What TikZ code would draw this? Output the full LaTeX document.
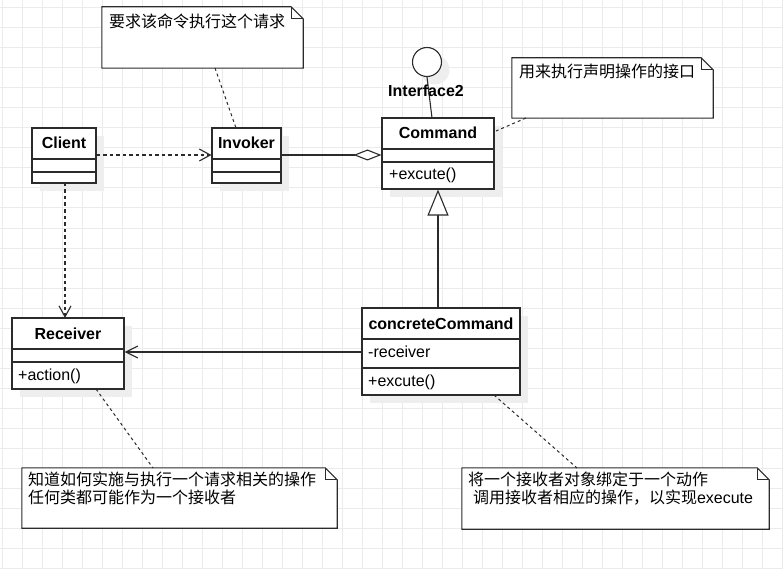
\documentclass[tikz,border=0pt]{standalone}
\usepackage{fontspec}
\setmainfont{Liberation Sans}
\newfontfamily\cjk{Noto Sans CJK SC}
\usetikzlibrary{arrows.meta,shadows,calc}
\definecolor{linec}{HTML}{2B2B2B}
\definecolor{gridc}{HTML}{EBEBEB}
\definecolor{shadc}{HTML}{EEEEEE}
\tikzset{
  cls/.style={draw=linec, line width=1.1pt, fill=white, inner sep=0pt,
    general shadow={fill=shadc, shadow xshift=8pt, shadow yshift=-8pt}},
  sepl/.style={draw=linec, line width=1.1pt},
  ctitle/.style={anchor=base, inner sep=0pt, font=\fontsize{16}{18}\selectfont\bfseries},
  member/.style={anchor=base west, inner sep=0pt, font=\fontsize{16}{18}\selectfont},
  notetxt/.style={anchor=base west, inner sep=0pt, font=\fontsize{16}{18}\selectfont\cjk},
  notearea/.style={inner sep=0pt, draw=none},
  notel/.style={draw=linec, line width=1.1pt, fill=white},
  conn/.style={draw=linec, line width=1.1pt},
  dep/.style={conn, dash pattern=on 3.5pt off 3pt, -{Straight Barb[length=11pt,width=12pt,line width=1.1pt]}},
  assoc/.style={conn, -{Straight Barb[length=12pt,width=12pt,line width=1.1pt]}},
  aggr/.style={conn, -{Diamond[length=28pt,width=11pt,fill=white,line width=1.1pt]}},
  gener/.style={conn, -{Triangle[length=26pt,width=21pt,fill=white,line width=1.1pt]}},
  anchorl/.style={conn, line width=1pt, dash pattern=on 3pt off 3pt},
}
\newcommand\notefold[1]{%
  \draw[notel] (#1.north west) -- ([xshift=-12pt]#1.north east) -- ([yshift=-12pt]#1.north east) -- (#1.south east) -- (#1.south west) -- cycle;
  \draw[notel, fill=none] ([xshift=-12pt]#1.north east) -- ([xshift=-12pt,yshift=-12pt]#1.north east) -- ([yshift=-12pt]#1.north east);
}
\begin{document}
\begin{tikzpicture}[x=1pt,y=-1pt]
\fill[white] (0,0) rectangle (783,569);
\useasboundingbox (0,0) rectangle (783,569);
% grid
\foreach \gx in {2,22,...,782} \draw[gridc, line width=1pt] (\gx,0) -- (\gx,569);
\foreach \gy in {8,28,...,568} \draw[gridc, line width=1pt] (0,\gy) -- (783,\gy);

% notes
\node[notearea, minimum width=201pt, minimum height=61pt] (n1) at (202.5,37.5) {};
\node[notearea, minimum width=201pt, minimum height=60pt] (n2) at (612.5,88) {};
\node[notearea, minimum width=315pt, minimum height=60pt] (n3) at (179.5,498) {};
\node[notearea, minimum width=307pt, minimum height=61pt] (n4) at (615.5,498.5) {};

% note anchors (drawn first, under boxes)
\coordinate (n1a) at (215,68);
\coordinate (n2a) at (526,118);
\coordinate (n3a) at (153,468);
\coordinate (n4a) at (577,468);

% classes
\node[cls, minimum width=64pt, minimum height=55pt] (client) at (64,155.5) {};
\node[cls, minimum width=69pt, minimum height=55pt] (invoker) at (246.5,155.5) {};
\node[cls, minimum width=112pt, minimum height=71pt] (command) at (438,153.5) {};
\node[cls, minimum width=158pt, minimum height=87pt] (ccmd) at (441,351.5) {};
\node[cls, minimum width=112pt, minimum height=71pt] (receiver) at (68,353.5) {};

% lollipop
\node[cls, circle, minimum size=29pt] (iface) at (427,62) {};
\draw[conn] (iface.south) -- (432,118);
\node[ctitle] (ifacelbl) at (426,97) {Interface2};

% separators
\draw[sepl] (client.west |- 0,159) -- (client.east |- 0,159);
\draw[sepl] (client.west |- 0,172) -- (client.east |- 0,172);
\draw[sepl] (invoker.west |- 0,159) -- (invoker.east |- 0,159);
\draw[sepl] (invoker.west |- 0,172) -- (invoker.east |- 0,172);
\draw[sepl] (command.west |- 0,149) -- (command.east |- 0,149);
\draw[sepl] (command.west |- 0,162) -- (command.east |- 0,162);
\draw[sepl] (ccmd.west |- 0,339) -- (ccmd.east |- 0,339);
\draw[sepl] (ccmd.west |- 0,368) -- (ccmd.east |- 0,368);
\draw[sepl] (receiver.west |- 0,349) -- (receiver.east |- 0,349);
\draw[sepl] (receiver.west |- 0,362) -- (receiver.east |- 0,362);

% class texts
\node[ctitle] (tclient) at (64,149) {Client};
\node[ctitle] (tinvoker) at (246.5,149) {Invoker};
\node[ctitle] (tcommand) at (438,139) {Command};
\node[member] (mcommand) at (389,180) {+excute()};
\node[ctitle] (tccmd) at (441,329) {concreteCommand};
\node[member] (accmd) at (368,357.5) {-receiver};
\node[member] (mccmd) at (368,386) {+excute()};
\node[ctitle] (treceiver) at (68,339) {Receiver};
\node[member] (mreceiver) at (18,380) {+action()};

% note shapes and texts
\notefold{n1}
\notefold{n2}
\notefold{n3}
\notefold{n4}
\node[notetxt] (t1) at ([xshift=7pt,yshift=-20.5pt]n1.north west) {要求该命令执行这个请求};
\node[notetxt] (t2) at ([xshift=7pt,yshift=-20pt]n2.north west) {用来执行声明操作的接口};
\node[notetxt] (t3a) at ([xshift=6pt,yshift=-18pt]n3.north west) {知道如何实施与执行一个请求相关的操作};
\node[notetxt] (t3b) at ([xshift=6pt,yshift=-36pt]n3.north west) {任何类都可能作为一个接收者};
\node[notetxt] (t4a) at ([xshift=6pt,yshift=-18pt]n4.north west) {将一个接收者对象绑定于一个动作};
\node[notetxt] (t4b) at ([xshift=11pt,yshift=-36pt]n4.north west) {调用接收者相应的操作，以实现{\rmfamily execute}};

% note connectors
\draw[anchorl] (n1a) -- (236,128);
\draw[anchorl] (n2a) -- (496,131);
\draw[anchorl] (96,389) -- (n3a);
\draw[anchorl] (494,395) -- (n4a);

% connectors
\draw[dep] (client.east |- 0,155) -- (invoker.west |- 0,155);
\draw[dep] (65,183) -- (65,318);
\draw[aggr] (invoker.east |- 0,155) -- (command.west |- 0,155);
\draw[gener] (command.south |- ccmd.north) -- (command.south);
\draw[assoc] (ccmd.west |- 0,352) -- (receiver.east |- 0,352);
\end{tikzpicture}
\end{document}
